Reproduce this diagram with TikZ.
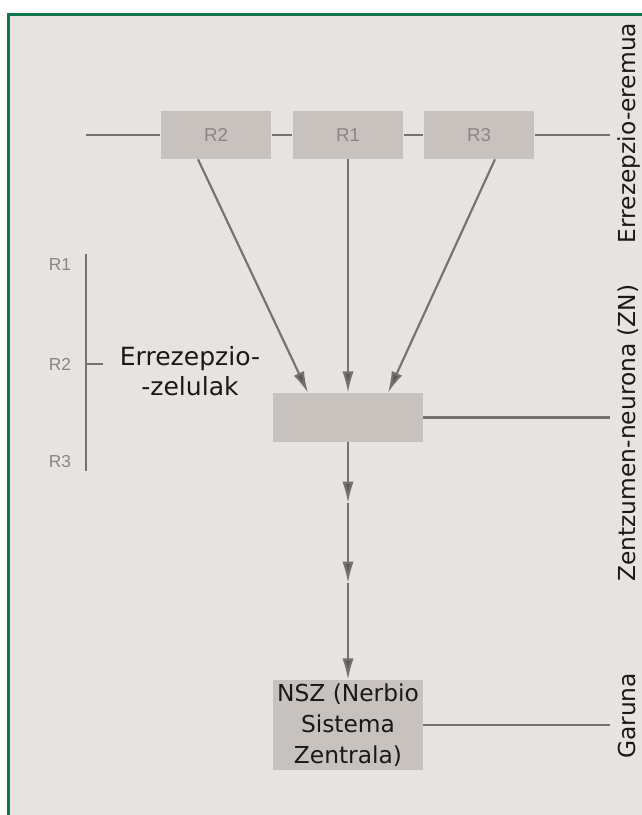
\documentclass[tikz,border=0pt]{standalone}
\usepackage{fontspec}
\setmainfont{DejaVu Sans}
\newfontfamily\smallfont{Liberation Sans}
\usetikzlibrary{positioning, arrows.meta, calc}

\definecolor{paper}{HTML}{E7E3E0}
\definecolor{cellgray}{HTML}{C8C2BF}
\definecolor{wiregray}{HTML}{767070}
\definecolor{tipgray}{HTML}{5E5757}
\definecolor{tinygray}{HTML}{8A8584}
\definecolor{framegreen}{HTML}{0F774A}

\begin{document}
\begin{tikzpicture}[x=0.75pt, y=-0.75pt,
    cell/.style={fill=cellgray, inner sep=0pt, minimum width=83pt, minimum height=36pt, text=tinygray, font=\smallfont\fontsize{14}{16}\selectfont},
    block/.style={fill=cellgray, inner sep=0pt, minimum width=112.5pt, align=center, text=black!90},
    wire/.style={draw=wiregray, line width=2.1pt},
    arr/.style={draw=wiregray, line width=1.6pt, -{Latex[length=16pt, width=8.5pt, fill=tipgray]}},
    tag/.style={text=tinygray, font=\smallfont\fontsize{13}{15}\selectfont},
    side/.style={rotate=90, anchor=base, text=black!90, font=\fontsize{17.5}{20}\selectfont}]
    % background and frame
    \useasboundingbox (0,0) rectangle (642,815);
    \fill[white] (0,0) rectangle (642,815);
    \fill[paper] (7,13) rectangle (642,815);
    \draw[framegreen, line width=2.3pt] (8.5,815) -- (8.5,14.5) -- (642,14.5);

    % receptor row
    \node[cell] (r2) at (216,135) {R2};
    \node[cell] (r1) at (348,135) {R1};
    \node[cell] (r3) at (479,135) {R3};
    \coordinate (rowL) at (86,135);
    \coordinate (rowR) at (610,135);
    \draw[wire] (rowL) -- (r2) -- (r1) -- (r3) -- (rowR);

    % sensory neuron and brain
    \node[block, minimum height=36.75pt] (zn) at (348,417.5) {};
    \node[block, minimum height=67.5pt, font=\fontsize{17.5}{23}\selectfont] (nsz) at (348,725) {NSZ (Nerbio\\Sistema\\Zentrala)};
    \coordinate (znR) at (610,417.5);
    \coordinate (nszR) at (610,725);
    \draw[wire] (zn.east) -- (znR);
    \draw[wire] (nsz.east) -- (nszR);

    % converging arrows
    \draw[arr] ([xshift=-13.5pt]r2.south) -- ([xshift=-30pt]zn.north);
    \draw[arr] (r1.south) -- (zn.north);
    \draw[arr] ([xshift=12pt]r3.south) -- ([xshift=30pt]zn.north);

    % down to the brain
    \coordinate (m1) at (348,503);
    \coordinate (m2) at (348,583);
    \draw[arr] (zn.south) -- (m1);
    \draw[arr] (m1) -- (m2);
    \draw[arr] (m2) -- (nsz.north);

    % left scale
    \coordinate (scT) at (86,254);
    \coordinate (scB) at (86,471);
    \coordinate (scM) at (86,364);
    \coordinate (scTick) at (103,364);
    \draw[wire] (scT) -- (scB);
    \draw[wire] (scM) -- (scTick);
    \node[tag] (t1) at (60,265) {R1};
    \node[tag] (t2) at (60,364) {R2};
    \node[tag] (t3) at (60,462) {R3};
    \node[align=center, text=black!90, font=\fontsize{18.8}{23}\selectfont] (cells) at (190,371) {Errezepzio-\\-zelulak};

    % side labels
    \node[side] (s1) at (635,133) {Errezepzio-eremua};
    \node[side] (s2) at (635,433) {Zentzumen-neurona (ZN)};
    \node[side] (s3) at (635,716) {Garuna};
\end{tikzpicture}
\end{document}
